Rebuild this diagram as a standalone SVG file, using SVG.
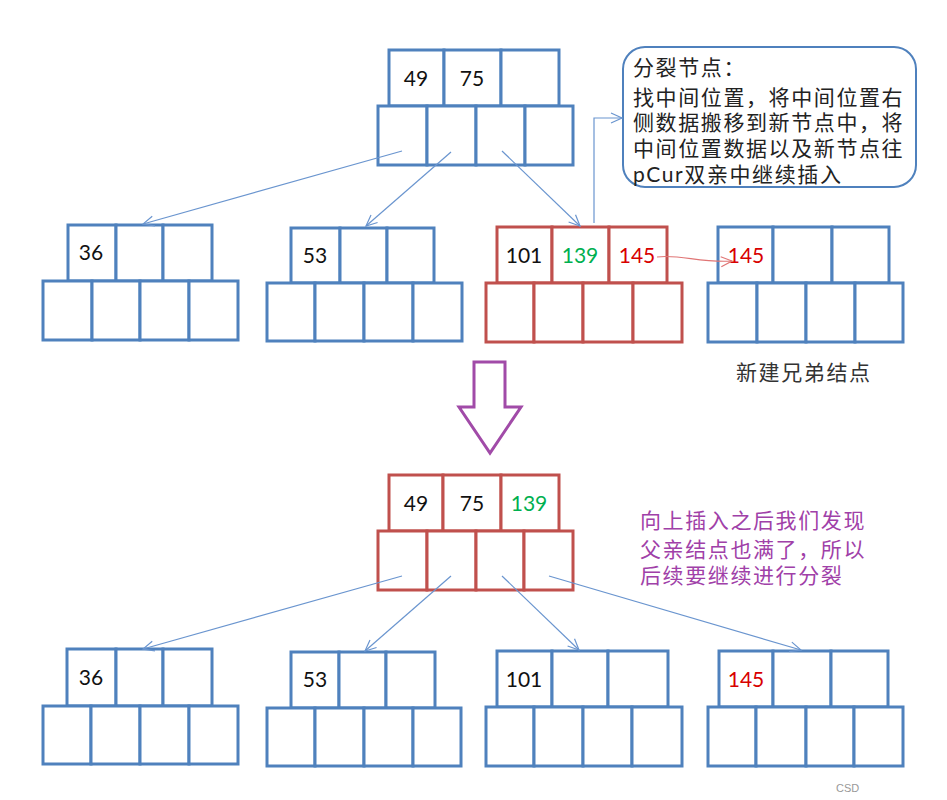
<svg xmlns="http://www.w3.org/2000/svg" width="947" height="800" viewBox="0 0 947 800">
<defs>
<style>
.b{fill:#fff;stroke:#4F81BD;stroke-width:3}
.r{fill:#fff;stroke:#C0504D;stroke-width:3}
.num{font-family:Lato,"Liberation Sans",sans-serif;font-size:21px;text-anchor:middle;fill:#111}
.cjk{font-family:Lato,"Noto Sans CJK SC",sans-serif;font-size:21px;letter-spacing:1.6px;fill:#222}
.ln{fill:none;stroke:#6A95CF;stroke-width:1.2}
</style>
<marker id="ah" markerUnits="userSpaceOnUse" markerWidth="14" markerHeight="12" viewBox="0 0 14 12" refX="12" refY="6" orient="auto">
<path d="M1,1 L12,6 L1,11" fill="none" stroke="#6A95CF" stroke-width="1.2"/>
</marker>
<marker id="ahr" markerUnits="userSpaceOnUse" markerWidth="14" markerHeight="12" viewBox="0 0 14 12" refX="12" refY="6" orient="auto">
<path d="M1,1 L12,6 L1,11" fill="none" stroke="#E07575" stroke-width="1.2"/>
</marker>
</defs>
<rect width="947" height="800" fill="#fff"/>

<g id="root-top">
<rect class="b" x="389" y="50" width="55" height="56"/>
<rect class="b" x="444" y="50" width="57" height="56"/>
<rect class="b" x="501" y="50" width="58" height="56"/>
<rect class="b" x="378" y="106" width="49" height="59"/>
<rect class="b" x="427" y="106" width="49" height="59"/>
<rect class="b" x="476" y="106" width="49" height="59"/>
<rect class="b" x="525" y="106" width="48" height="59"/>
<text class="num" x="416" y="86">49</text>
<text class="num" x="472" y="86">75</text>
</g>

<g id="callout">
<rect x="623" y="47" width="293" height="140" rx="22" ry="22" fill="#fff" stroke="#4F81BD" stroke-width="2"/>
<text class="cjk" x="633" y="75">分裂节点：</text>
<text class="cjk" x="633" y="105">找中间位置，将中间位置右</text>
<text class="cjk" x="633" y="130">侧数据搬移到新节点中，将</text>
<text class="cjk" x="633" y="156">中间位置数据以及新节点往</text>
<text class="cjk" x="633" y="182">pCur双亲中继续插入</text>
</g>

<g id="node-36-top">
<rect class="b" x="68" y="225" width="48" height="56"/>
<rect class="b" x="116" y="225" width="47" height="56"/>
<rect class="b" x="163" y="225" width="49" height="56"/>
<rect class="b" x="43" y="281" width="49" height="59"/>
<rect class="b" x="92" y="281" width="48" height="59"/>
<rect class="b" x="140" y="281" width="49" height="59"/>
<rect class="b" x="189" y="281" width="49" height="59"/>
<text class="num" x="91" y="260">36</text>
</g>

<g id="node-53-top">
<rect class="b" x="291" y="228" width="49" height="55"/>
<rect class="b" x="340" y="228" width="47" height="55"/>
<rect class="b" x="387" y="228" width="47" height="55"/>
<rect class="b" x="267" y="283" width="48" height="58"/>
<rect class="b" x="315" y="283" width="49" height="58"/>
<rect class="b" x="364" y="283" width="49" height="58"/>
<rect class="b" x="413" y="283" width="49" height="58"/>
<text class="num" x="315" y="263">53</text>
</g>

<g id="node-full">
<rect class="r" x="497" y="227" width="55" height="56"/>
<rect class="r" x="552" y="227" width="57" height="56"/>
<rect class="r" x="609" y="227" width="58" height="56"/>
<rect class="r" x="486" y="283" width="48" height="59"/>
<rect class="r" x="534" y="283" width="49" height="59"/>
<rect class="r" x="583" y="283" width="50" height="59"/>
<rect class="r" x="633" y="283" width="49" height="59"/>
<text class="num" x="524" y="263">101</text>
<text class="num" x="580" y="263" style="fill:#00B050">139</text>
<text class="num" x="637" y="263" style="fill:#D80000">145</text>
</g>

<g id="node-new">
<rect class="b" x="718" y="227" width="55" height="56"/>
<rect class="b" x="773" y="227" width="59" height="56"/>
<rect class="b" x="832" y="227" width="57" height="56"/>
<rect class="b" x="708" y="283" width="49" height="59"/>
<rect class="b" x="757" y="283" width="49" height="59"/>
<rect class="b" x="806" y="283" width="49" height="59"/>
<rect class="b" x="855" y="283" width="48" height="59"/>
<text class="num" x="746" y="263" style="fill:#D80000">145</text>
<text class="cjk" x="736" y="380" style="fill:#333">新建兄弟结点</text>
</g>

<g id="down-arrow">
<polygon points="474,362 505,362 505,407 521,407 490,453 459,407 474,407" fill="#fff" stroke="#A14BA8" stroke-width="3"/>
</g>

<g id="root-bottom">
<rect class="r" x="389" y="475" width="54" height="56"/>
<rect class="r" x="443" y="475" width="58" height="56"/>
<rect class="r" x="501" y="475" width="58" height="56"/>
<rect class="r" x="378" y="531" width="49" height="59"/>
<rect class="r" x="427" y="531" width="49" height="59"/>
<rect class="r" x="476" y="531" width="48" height="59"/>
<rect class="r" x="524" y="531" width="49" height="59"/>
<text class="num" x="416" y="511">49</text>
<text class="num" x="472" y="511">75</text>
<text class="num" x="529" y="511" style="fill:#00B050">139</text>
</g>

<g id="note">
<text class="cjk" x="640" y="528" style="fill:#A040A8">向上插入之后我们发现</text>
<text class="cjk" x="640" y="557" style="fill:#A040A8">父亲结点也满了，所以</text>
<text class="cjk" x="640" y="583" style="fill:#A040A8">后续要继续进行分裂</text>
</g>

<g id="node-36-bottom">
<rect class="b" x="67" y="649" width="49" height="57"/>
<rect class="b" x="116" y="649" width="47" height="57"/>
<rect class="b" x="163" y="649" width="49" height="57"/>
<rect class="b" x="43" y="706" width="48" height="58"/>
<rect class="b" x="91" y="706" width="49" height="58"/>
<rect class="b" x="140" y="706" width="49" height="58"/>
<rect class="b" x="189" y="706" width="49" height="58"/>
<text class="num" x="91" y="685">36</text>
</g>

<g id="node-53-bottom">
<rect class="b" x="291" y="652" width="48" height="56"/>
<rect class="b" x="339" y="652" width="47" height="56"/>
<rect class="b" x="386" y="652" width="49" height="56"/>
<rect class="b" x="267" y="708" width="48" height="58"/>
<rect class="b" x="315" y="708" width="49" height="58"/>
<rect class="b" x="364" y="708" width="49" height="58"/>
<rect class="b" x="413" y="708" width="48" height="58"/>
<text class="num" x="315" y="687">53</text>
</g>

<g id="node-101-bottom">
<rect class="b" x="497" y="651" width="55" height="56"/>
<rect class="b" x="552" y="651" width="56" height="56"/>
<rect class="b" x="608" y="651" width="60" height="56"/>
<rect class="b" x="486" y="707" width="48" height="59"/>
<rect class="b" x="534" y="707" width="49" height="59"/>
<rect class="b" x="583" y="707" width="49" height="59"/>
<rect class="b" x="632" y="707" width="50" height="59"/>
<text class="num" x="524" y="687">101</text>
</g>

<g id="node-145-bottom">
<rect class="b" x="719" y="651" width="54" height="56"/>
<rect class="b" x="773" y="651" width="58" height="56"/>
<rect class="b" x="831" y="651" width="57" height="56"/>
<rect class="b" x="708" y="707" width="48" height="59"/>
<rect class="b" x="756" y="707" width="50" height="59"/>
<rect class="b" x="806" y="707" width="48" height="59"/>
<rect class="b" x="854" y="707" width="49" height="59"/>
<text class="num" x="746" y="687" style="fill:#D80000">145</text>
</g>

<g id="connectors">
<line class="ln" x1="402" y1="151" x2="143" y2="224" marker-end="url(#ah)"/>
<line class="ln" x1="451" y1="152" x2="366" y2="226" marker-end="url(#ah)"/>
<line class="ln" x1="502" y1="151" x2="580" y2="226" marker-end="url(#ah)"/>
<polyline class="ln" points="594,223 594,118 622,118" marker-end="url(#ah)"/>
<path d="M657,257 C680,254 700,263 732,261" fill="none" stroke="#E07575" stroke-width="1.2" marker-end="url(#ahr)"/>
<line class="ln" x1="402" y1="576" x2="143" y2="649" marker-end="url(#ah)"/>
<line class="ln" x1="451" y1="576" x2="365" y2="651" marker-end="url(#ah)"/>
<line class="ln" x1="502" y1="576" x2="579" y2="650" marker-end="url(#ah)"/>
<line class="ln" x1="549" y1="576" x2="801" y2="650" marker-end="url(#ah)"/>
</g>

<text x="836" y="792" font-family="Liberation Sans, sans-serif" font-size="11" fill="#999">CSD</text>
</svg>
